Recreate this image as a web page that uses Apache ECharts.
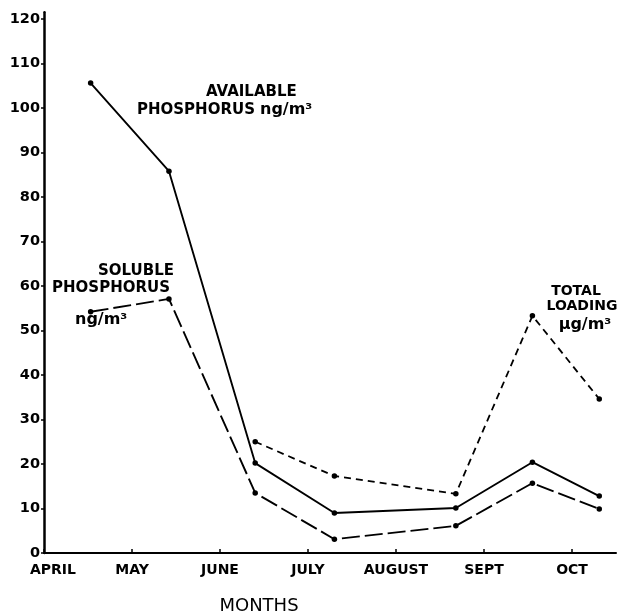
<!DOCTYPE html>
<html>
<head>
<meta charset="utf-8">
<script src="https://cdn.jsdelivr.net/npm/echarts@6/dist/echarts.min.js"></script>
<style>
html,body{margin:0;padding:0;background:#fff;}
#chart{width:620px;height:615px;}
</style>
</head>
<body>
<div id="chart"></div>
<script>
// Month labels placed at integer x positions (0 = APRIL ... 6 = OCT)
const monthLabels = ['APRIL', 'MAY', 'JUNE', 'JULY', 'AUGUST', 'SEPT', 'OCT'];
// Sampling positions along the month axis
const sampleX = [0.53, 1.42, 2.40, 3.30, 4.68, 5.55, 6.31];
// Series values
const availablePhosphorus = [105.6, 85.8, 20.2, 9.0, 10.1, 20.4, 12.8];
const solublePhosphorus = [54.2, 57.1, 13.5, 3.1, 6.1, 15.7, 9.9];
const totalLoading = [null, null, 25.0, 17.3, 13.3, 53.3, 34.6];
// Y tick labels
const yTicks = [0, 10, 20, 30, 40, 50, 60, 70, 80, 90, 100, 110, 120];

function pairs(vals) {
  const out = [];
  vals.forEach((v, i) => { if (v !== null) out.push([sampleX[i], v]); });
  return out;
}

const FONT = '"DejaVu Sans", sans-serif';
const chart = echarts.init(document.getElementById('chart'), null, {renderer: 'canvas'});

const lineBase = {
  type: 'line',
  symbol: 'circle',
  symbolSize: 5.5,
  showSymbol: true,
  animation: false,
  itemStyle: {color: '#000'},
  emphasis: {disabled: true}
};

chart.setOption({
  backgroundColor: '#fff',
  animation: false,
  grid: {left: 44, right: 4, top: 12.3, bottom: 62, containLabel: false},
  xAxis: {
    type: 'value',
    min: 0,
    max: 6.5,
    interval: 1,
    axisLine: {show: true, lineStyle: {color: '#000', width: 2}},
    axisTick: {show: true, inside: true, length: 4, lineStyle: {color: '#000', width: 1.5}},
    splitLine: {show: false},
    axisLabel: {
      color: '#000',
      fontFamily: FONT,
      fontWeight: 'bold',
      fontSize: 14,
      margin: 10,
      showMaxLabel: false,
      formatter: function (v) {
        const i = Math.round(v);
        if (Math.abs(v - i) > 1e-6 || i < 0 || i >= monthLabels.length) return '';
        if (i === 0) return '{a|' + monthLabels[i] + '}';
        return monthLabels[i];
      },
      rich: {
        a: {fontFamily: FONT, fontWeight: 'bold', fontSize: 14, color: '#000', padding: [0, 0, 0, 18]}
      }
    }
  },
  yAxis: {
    type: 'value',
    min: 0,
    max: 121.5,
    interval: 10,
    axisLine: {show: true, lineStyle: {color: '#000', width: 2.5}},
    axisTick: {show: true, inside: false, length: 3, lineStyle: {color: '#000', width: 1.5}},
    splitLine: {show: false},
    axisLabel: {
      color: '#000',
      fontFamily: FONT,
      fontWeight: 'bold',
      fontSize: 14.5,
      margin: 4,
      showMaxLabel: false,
      formatter: function (v) {
        return yTicks.indexOf(v) >= 0 ? String(v) : '';
      }
    }
  },
  series: [
    Object.assign({}, lineBase, {
      name: 'Available phosphorus',
      data: pairs(availablePhosphorus),
      lineStyle: {color: '#000', width: 1.9, type: 'solid'}
    }),
    Object.assign({}, lineBase, {
      name: 'Soluble phosphorus',
      data: pairs(solublePhosphorus),
      lineStyle: {color: '#000', width: 1.9, type: [18, 5]}
    }),
    Object.assign({}, lineBase, {
      name: 'Total loading',
      data: pairs(totalLoading),
      lineStyle: {color: '#000', width: 1.8, type: [7, 5]}
    })
  ],
  graphic: [
    {type: 'text', x: 206, y: 92, style: {text: 'AVAILABLE', font: 'bold 15px ' + FONT, fill: '#000', textAlign: 'left', textVerticalAlign: 'middle'}},
    {type: 'text', x: 137, y: 110, style: {text: 'PHOSPHORUS', font: 'bold 15px ' + FONT, fill: '#000', textAlign: 'left', textVerticalAlign: 'middle'}},
    {type: 'text', x: 260, y: 110, style: {text: 'ng/m³', font: 'bold 16px ' + FONT, fill: '#000', textAlign: 'left', textVerticalAlign: 'middle'}},
    {type: 'text', x: 174, y: 271, style: {text: 'SOLUBLE', font: 'bold 15px ' + FONT, fill: '#000', textAlign: 'right', textVerticalAlign: 'middle'}},
    {type: 'text', x: 170, y: 288, style: {text: 'PHOSPHORUS', font: 'bold 15px ' + FONT, fill: '#000', textAlign: 'right', textVerticalAlign: 'middle'}},
    {type: 'text', x: 75, y: 320, style: {text: 'ng/m³', font: 'bold 16px ' + FONT, fill: '#000', textAlign: 'left', textVerticalAlign: 'middle'}},
    {type: 'text', x: 576, y: 291, style: {text: 'TOTAL', font: 'bold 14px ' + FONT, fill: '#000', textAlign: 'center', textVerticalAlign: 'middle'}},
    {type: 'text', x: 582, y: 306, style: {text: 'LOADING', font: 'bold 14px ' + FONT, fill: '#000', textAlign: 'center', textVerticalAlign: 'middle'}},
    {type: 'text', x: 585, y: 325, style: {text: 'µg/m³', font: 'bold 16px ' + FONT, fill: '#000', textAlign: 'center', textVerticalAlign: 'middle'}},
    {type: 'text', x: 259, y: 606, style: {text: 'MONTHS', font: '18px ' + FONT, fill: '#000', textAlign: 'center', textVerticalAlign: 'middle'}}
  ]
});
</script>
</body>
</html>
